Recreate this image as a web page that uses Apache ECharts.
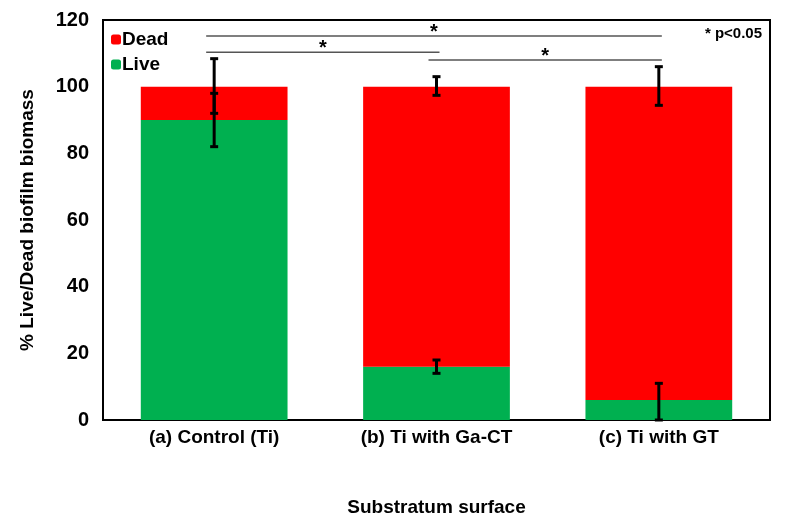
<!DOCTYPE html>
<html><head><meta charset="utf-8">
<script src="https://cdn.jsdelivr.net/npm/echarts@6/dist/echarts.min.js"></script>
<style>body{margin:0;background:#fff}#c{width:798px;height:530px}</style>
</head><body><div id="c"></div>
<script>
// data
var categories = ['(a) Control (Ti)', '(b) Ti with Ga-CT', '(c) Ti with GT'];
var live = [90, 16, 6];
var dead = [10, 84, 94];
var liveErr = [[82, 98], [14, 18], [0, 11]];
var deadErr = [[92, 108.4], [97.4, 103], [94.4, 106]];
var sigLines = [[0, 2, 115.2], [0, 1, 110.3], [1, 2, 108]];

var errData = [];
for (var i = 0; i < categories.length; i++) {
	errData.push([i, liveErr[i][0], liveErr[i][1]]);
	errData.push([i, deadErr[i][0], deadErr[i][1]]);
}

function renderErr(params, api) {
	var lo = api.coord([api.value(0), api.value(1)]);
	var hi = api.coord([api.value(0), api.value(2)]);
	var st = { stroke: '#000', lineWidth: 3 };
	return { type: 'group', children: [
		{ type: 'line', shape: { x1: hi[0], y1: hi[1], x2: lo[0], y2: lo[1] }, style: st },
		{ type: 'line', shape: { x1: hi[0] - 4, y1: hi[1], x2: hi[0] + 4, y2: hi[1] }, style: st },
		{ type: 'line', shape: { x1: lo[0] - 4, y1: lo[1], x2: lo[0] + 4, y2: lo[1] }, style: st }
	]};
}

function renderSig(params, api) {
	var a = api.coord([api.value(0), api.value(2)]);
	var b = api.coord([api.value(1), api.value(2)]);
	var x1 = a[0] - 8, x2 = b[0] + 3;
	return { type: 'group', children: [
		{ type: 'line', shape: { x1: x1, y1: a[1], x2: x2, y2: a[1] }, style: { stroke: '#555', lineWidth: 1.5 } },
		{ type: 'text', x: (x1 + x2) / 2, y: a[1] + 6, style: { text: '*', fontSize: 20, fontWeight: 'bold', fill: '#000', align: 'center', verticalAlign: 'bottom', fontFamily: 'Arial' } }
	]};
}

var chart = echarts.init(document.getElementById('c'));
chart.setOption({
	animation: false,
	textStyle: { fontFamily: 'Arial, Liberation Sans, sans-serif' },
	grid: { left: 103, right: 28, top: 20, bottom: 110, show: true, borderColor: '#000', borderWidth: 2 },
	legend: {
		data: [{ name: 'Dead' }, { name: 'Live' }],
		orient: 'vertical', left: 106, top: 25, itemWidth: 10, itemHeight: 10, itemGap: 6,
		textStyle: { fontSize: 19, fontWeight: 'bold', color: '#000', padding: [0, 0, 0, -4] }
	},
	graphic: [{ type: 'text', right: 36, top: 26, style: { text: '* p<0.05', fontSize: 15, fontWeight: 'bold', fill: '#000' } }],
	xAxis: {
		type: 'category', data: categories,
		name: 'Substratum surface', nameLocation: 'middle', nameGap: 78,
		nameTextStyle: { fontSize: 19, fontWeight: 'bold', color: '#000' },
		axisLine: { lineStyle: { color: '#000', width: 2 } }, axisTick: { show: false },
		axisLabel: { fontSize: 19, fontWeight: 'bold', color: '#000', margin: 8 }
	},
	yAxis: {
		type: 'value', min: 0, max: 120, interval: 20,
		name: '% Live/Dead biofilm biomass', nameLocation: 'middle', nameGap: 66,
		nameTextStyle: { fontSize: 19, fontWeight: 'bold', color: '#000' },
		splitLine: { show: false },
		axisLine: { show: true, lineStyle: { color: '#000', width: 2 } },
		axisTick: { show: false },
		axisLabel: { fontSize: 20, fontWeight: 'bold', color: '#000', margin: 14 }
	},
	series: [
		{ name: 'Live', type: 'bar', stack: 's', data: live, barWidth: '66%', itemStyle: { color: '#00b050' } },
		{ name: 'Dead', type: 'bar', stack: 's', data: dead, itemStyle: { color: '#ff0000' } },
		{ type: 'custom', renderItem: renderErr, data: errData, z: 10, silent: true },
		{ type: 'custom', renderItem: renderSig, data: sigLines, z: 10, silent: true }
	]
});
</script></body></html>
